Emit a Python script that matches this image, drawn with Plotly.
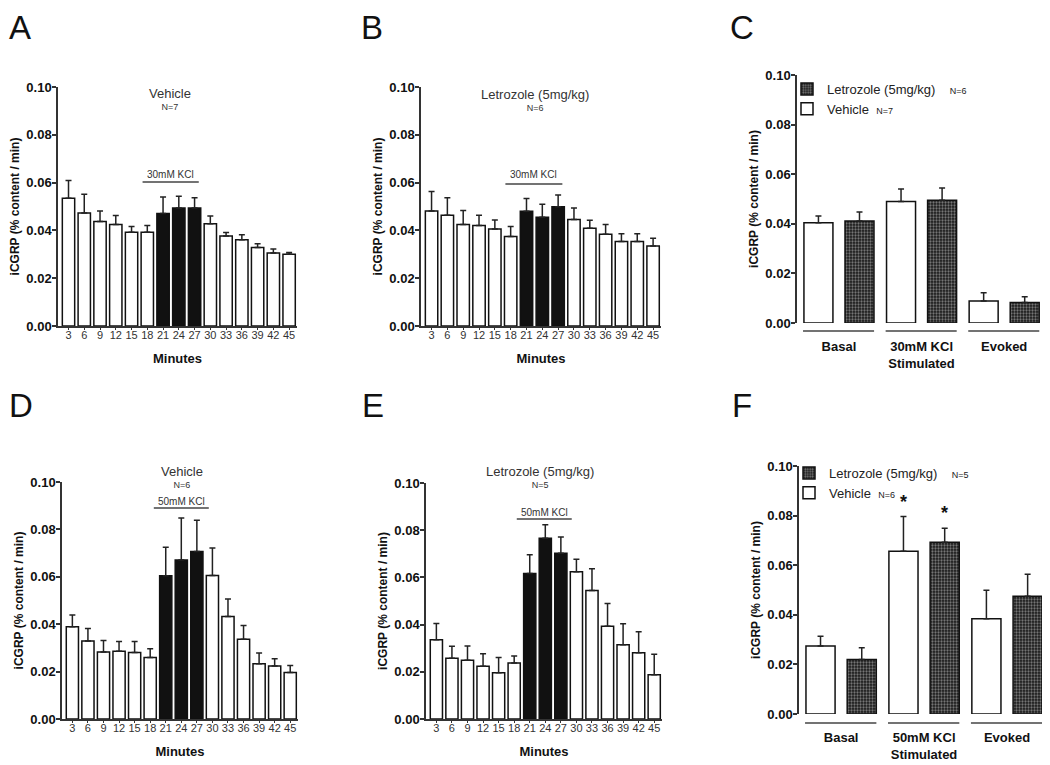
import plotly.graph_objects as go

W, H = 1050, 765
OFF = 8                     # page body margin of the browser
FW, FH = W - OFF, H - OFF   # figure size so it fits the window exactly
FONT = "Liberation Sans"

# ---------------- data ----------------
minutes = [3, 6, 9, 12, 15, 18, 21, 24, 27, 30, 33, 36, 39, 42, 45]
stim_minutes = [21, 24, 27]

veh30_mean = [0.0534, 0.0473, 0.0437, 0.0425, 0.0392, 0.0392, 0.0471, 0.0494, 0.0494,
              0.0428, 0.0377, 0.0361, 0.0328, 0.0305, 0.0300]
veh30_sem = [0.0075, 0.0078, 0.0044, 0.0037, 0.0024, 0.0028, 0.0069, 0.0049, 0.0043,
             0.0032, 0.0014, 0.0021, 0.0016, 0.0017, 0.0008]

let30_mean = [0.0481, 0.0463, 0.0425, 0.0421, 0.0406, 0.0375, 0.0480, 0.0455, 0.0499,
              0.0446, 0.0409, 0.0384, 0.0354, 0.0354, 0.0335]
let30_sem = [0.0082, 0.0074, 0.0058, 0.0042, 0.0038, 0.0041, 0.0053, 0.0054, 0.0049,
             0.0048, 0.0033, 0.0041, 0.0032, 0.0032, 0.0032]

veh50_mean = [0.0389, 0.0329, 0.0283, 0.0286, 0.0281, 0.0260, 0.0604, 0.0671, 0.0707,
              0.0605, 0.0433, 0.0337, 0.0233, 0.0224, 0.0196]
veh50_sem = [0.0050, 0.0053, 0.0048, 0.0041, 0.0046, 0.0036, 0.0121, 0.0177, 0.0132,
             0.0117, 0.0073, 0.0058, 0.0046, 0.0030, 0.0030]

let50_mean = [0.0336, 0.0257, 0.0249, 0.0223, 0.0196, 0.0237, 0.0616, 0.0766, 0.0702,
              0.0624, 0.0544, 0.0393, 0.0315, 0.0281, 0.0188]
let50_sem = [0.0069, 0.0051, 0.0060, 0.0054, 0.0065, 0.0030, 0.0080, 0.0057, 0.0069,
             0.0053, 0.0093, 0.0096, 0.0089, 0.0089, 0.0086]

groups30 = ["Basal", "30mM KCl<br>Stimulated", "Evoked"]
c_veh_mean = [0.0404, 0.0490, 0.0089]
c_veh_sem = [0.0027, 0.0050, 0.0033]
c_let_mean = [0.0411, 0.0495, 0.0083]
c_let_sem = [0.0037, 0.0049, 0.0023]

groups50 = ["Basal", "50mM KCl<br>Stimulated", "Evoked"]
f_veh_mean = [0.0274, 0.0656, 0.0384]
f_veh_sem = [0.0040, 0.0140, 0.0115]
f_let_mean = [0.0220, 0.0693, 0.0475]
f_let_sem = [0.0047, 0.0056, 0.0089]
f_significant = [False, True, False]

y_ticks = [0.00, 0.02, 0.04, 0.06, 0.08, 0.10]


# ---------------- helpers (window pixels -> paper fraction) ----------------
def fx(px):
    return (px - OFF) / FW


def fy(py):
    return 1 - (py - OFF) / FH


fig = go.Figure()

bar_line = dict(color="#111111", width=1.5)
err_style = dict(color="#222222", thickness=1.5, width=3)
pattern = dict(shape=".", fgcolor="#d0d0d0", bgcolor="#1a1a1a", size=3, solidity=0.45)


def time_panel(idx, mean, sem):
    colors = ["#111111" if m in stim_minutes else "white" for m in minutes]
    fig.add_trace(go.Bar(
        x=minutes, y=mean, width=2.35,
        marker=dict(color=colors, line=bar_line),
        error_y=dict(type="data", symmetric=False, array=sem,
                     arrayminus=[0] * len(sem), **err_style),
        xaxis="x" + ("" if idx == 1 else str(idx)),
        yaxis="y" + ("" if idx == 1 else str(idx)),
        showlegend=False, hoverinfo="skip",
    ))


def group_panel(idx, cats, vm, vs, lm, ls, legend, nv, nl):
    ax = str(idx)
    fig.add_trace(go.Bar(
        x=cats, y=lm, width=0.351, offset=0.073,
        marker=dict(color="#1a1a1a", line=bar_line, pattern=pattern),
        error_y=dict(type="data", symmetric=False, array=ls,
                     arrayminus=[0] * len(ls), **err_style),
        xaxis="x" + ax, yaxis="y" + ax, legend=legend, legendrank=1,
        name="Letrozole (5mg/kg)    <span style='font-size:9px'>N=%d</span>" % nl,
        hoverinfo="skip",
    ))
    fig.add_trace(go.Bar(
        x=cats, y=vm, width=0.351, offset=-0.424,
        marker=dict(color="white", line=bar_line),
        error_y=dict(type="data", symmetric=False, array=vs,
                     arrayminus=[0] * len(vs), **err_style),
        xaxis="x" + ax, yaxis="y" + ax, legend=legend, legendrank=2,
        name="Vehicle  <span style='font-size:9px'>N=%d</span>" % nv,
        hoverinfo="skip",
    ))


time_panel(1, veh30_mean, veh30_sem)
time_panel(2, let30_mean, let30_sem)
group_panel(3, groups30, c_veh_mean, c_veh_sem, c_let_mean, c_let_sem, "legend", 7, 6)
time_panel(4, veh50_mean, veh50_sem)
time_panel(5, let50_mean, let50_sem)
group_panel(6, groups50, f_veh_mean, f_veh_sem, f_let_mean, f_let_sem, "legend2", 6, 5)

# ---------------- axes ----------------
# (x0px, x1px, y_zero_px, y_top_px)
geom = {
    1: (58, 297, 326, 87),
    2: (421, 661, 326, 87),
    3: (797, 1043, 323, 75),
    4: (62, 298, 719, 482),
    5: (426, 662, 719, 483),
    6: (799, 1046, 714, 466),
}

layout = {}
for i, (x0, x1, yb, yt) in geom.items():
    key = "" if i == 1 else str(i)
    yax = dict(
        domain=[fy(yb), fy(yt)], range=[0, 0.1], anchor="x" + key,
        tickvals=y_ticks, tickformat=".2f", ticks="outside", ticklen=4,
        tickwidth=1.5, tickcolor="#333333", ticklabelstandoff=-2,
        showline=True, linecolor="#333333", linewidth=1.5,
        showgrid=False, zeroline=False, automargin=False,
        tickfont=dict(family=FONT, size=13, color="#111111", weight="bold"),
        title=dict(text="iCGRP (% content / min)", standoff=4,
                   font=dict(family=FONT, size=12, color="#111111", weight="bold")),
    )
    if i in (1, 2, 4, 5):
        xax = dict(
            domain=[fx(x0), fx(x1)], range=[1.0, 46.5], anchor="y" + key,
            tickvals=minutes, ticks="outside", ticklen=2, tickwidth=1,
            tickcolor="#333333", ticklabelstandoff=-4,
            showline=True, linecolor="#333333", linewidth=1.5,
            showgrid=False, zeroline=False, automargin=False,
            tickfont=dict(family=FONT, size=11, color="#333333"),
            title=dict(text="Minutes", standoff=14,
                       font=dict(family=FONT, size=13, color="#111111", weight="bold")),
        )
    else:
        xax = dict(
            domain=[fx(x0), fx(x1)], range=[-0.508, 2.47], anchor="y" + key,
            type="category", ticks="", showline=False,
            showgrid=False, zeroline=False, automargin=False,
            ticklabelstandoff=14,
            tickfont=dict(family=FONT, size=13, color="#111111", weight="bold"),
        )
    layout["xaxis" + key] = xax
    layout["yaxis" + key] = yax

fig.update_layout(**layout)

# ---------------- group underlines (C, F) ----------------
shapes = []
for ax, yline in ((3, 331), (6, 723)):
    for gi in range(3):
        shapes.append(dict(type="line", xref="x%d" % ax, yref="paper",
                           x0=gi - 0.435, x1=gi + 0.425, y0=fy(yline), y1=fy(yline),
                           line=dict(color="#444444", width=1.5)))

# ---------------- KCl bars ----------------
kcl = [
    (1, 17.1, 27.8, 0.0603, 0.0636, "30mM KCl"),
    (2, 17.0, 27.8, 0.0594, 0.0636, "30mM KCl"),
    (4, 18.7, 29.3, 0.0890, 0.0916, "50mM KCl"),
    (5, 18.5, 29.1, 0.0847, 0.0877, "50mM KCl"),
]
annotations = []
for ax, xa, xb, yl, ytxt, label in kcl:
    key = "" if ax == 1 else str(ax)
    shapes.append(dict(type="line", xref="x" + key, yref="y" + key,
                       x0=xa, x1=xb, y0=yl, y1=yl,
                       line=dict(color="#444444", width=1.5)))
    annotations.append(dict(xref="x" + key, yref="y" + key, x=(xa + xb) / 2, y=ytxt,
                            text=label, showarrow=False, xanchor="center", yanchor="middle",
                            font=dict(family=FONT, size=10, color="#333333")))

# ---------------- panel titles (title + N on two lines) ----------------
titles = [
    (170, 99, "Vehicle", "N=7"),
    (535, 100, "Letrozole (5mg/kg)", "N=6"),
    (182, 477, "Vehicle", "N=6"),
    (540, 477, "Letrozole (5mg/kg)", "N=5"),
]
for xp, yc, t, n in titles:
    annotations.append(dict(xref="paper", yref="paper", x=fx(xp), y=fy(yc),
                            text="<span style='font-size:13px'>%s</span><br>%s" % (t, n),
                            showarrow=False, xanchor="center", yanchor="middle",
                            font=dict(family=FONT, size=9, color="#333333")))

# ---------------- significance stars (F) ----------------
for gi, sig in enumerate(f_significant):
    if sig:
        for xo, m, s in ((-0.2475, f_veh_mean[gi], f_veh_sem[gi]),
                         (0.2475, f_let_mean[gi], f_let_sem[gi])):
            annotations.append(dict(xref="x6", yref="y6", x=gi + xo, y=m + s + 0.006,
                                    text="*", showarrow=False, xanchor="center",
                                    yanchor="middle",
                                    font=dict(family=FONT, size=18, color="#111111",
                                              weight="bold")))

# ---------------- panel letters ----------------
for xp, letter in ((8, "A"), (360, "B"), (729, "C")):
    annotations.append(dict(xref="paper", yref="paper", x=fx(xp), y=1.0,
                            text=letter, showarrow=False, xanchor="left", yanchor="top",
                            borderpad=0,
                            font=dict(family=FONT, size=33, color="#111111")))
for xp, letter in ((8, "D"), (361, "E"), (731, "F")):
    annotations.append(dict(xref="paper", yref="paper", x=fx(xp), y=fy(425),
                            text=letter, showarrow=False, xanchor="left", yanchor="bottom",
                            borderpad=0,
                            font=dict(family=FONT, size=33, color="#111111")))

legend_style = dict(xanchor="left", yanchor="top", bgcolor="rgba(0,0,0,0)",
                    font=dict(family=FONT, size=13, color="#222222"),
                    itemclick=False, itemdoubleclick=False, tracegroupgap=0)

fig.update_layout(
    width=FW, height=FH, autosize=False,
    margin=dict(l=0, r=0, t=0, b=0),
    paper_bgcolor="white", plot_bgcolor="white",
    barmode="overlay",
    shapes=shapes, annotations=annotations,
    legend=dict(x=fx(787), y=fy(74), **legend_style),
    legend2=dict(x=fx(789), y=fy(458), **legend_style),
    showlegend=True,
)

fig.write_html("out.html")
